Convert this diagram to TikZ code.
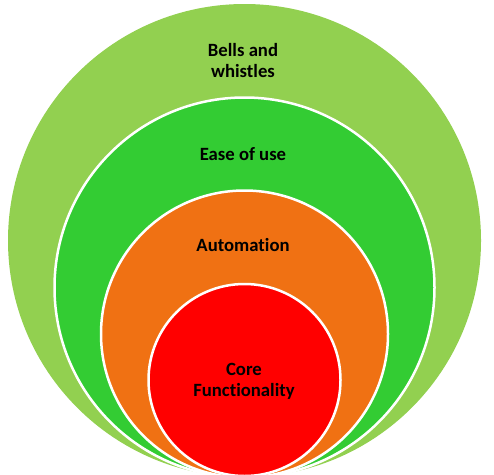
\documentclass[tikz,border=0pt]{standalone}
\usepackage{fontspec}
\setmainfont{Carlito}[Ligatures=NoCommon]
\definecolor{lgreen}{HTML}{92D050}
\definecolor{mgreen}{HTML}{33CC33}
\definecolor{orng}{HTML}{F07113}
\definecolor{rred}{HTML}{FF0000}
\begin{document}
\begin{tikzpicture}[x=1pt,y=-1pt,
  ring/.style={draw=white,line width=2.5pt},
  lbl/.style={align=center,font=\fontsize{18.7}{21}\selectfont\bfseries,text=black,inner sep=0pt}]
\useasboundingbox (0,0) rectangle (494,474);
\clip (0,0) rectangle (494,474);
\fill[lgreen] (244.5,240.5) circle[radius=236.5pt];
\fill[mgreen,ring] (244.5,287.5) circle[radius=190pt];
\fill[orng,ring] (244.5,334) circle[radius=143.5pt];
\fill[rred,ring] (244.5,380) circle[radius=96pt];
\node[lbl] (bells) at (243,60.5) {Bells and\\whistles};
\node[lbl] (ease) at (243,154) {Ease of use};
\node[lbl] (auto) at (243,245) {Automation};
\node[lbl] (core) at (244,381.5) {Core\\Functionality};
\end{tikzpicture}
\end{document}
